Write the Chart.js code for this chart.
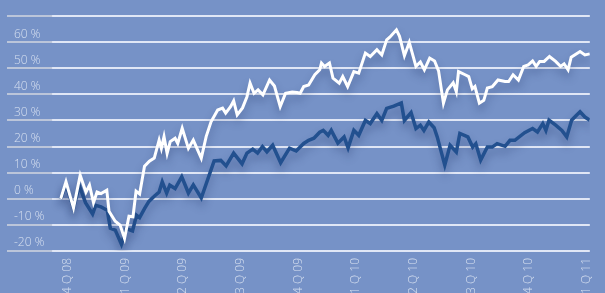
<!DOCTYPE html>
<html lang="en">
<head>
  <meta charset="UTF-8" />
  <title>Performance vs Index</title>
  <script src="https://cdn.jsdelivr.net/npm/chart.js"></script>
  <style>
    body {
      margin: 0;
      background-color: #7692c7;
      font-family: 'Open Sans', sans-serif;
    }

    #wrap {
      width: 605px;
      height: 293px;
      position: relative;
    }
  </style>
</head>
<body>
  <div id="wrap">
    <canvas id="perfChart"></canvas>
  </div>

  <script>
    // quarter labels, one every 13 weeks starting at week 0
    const quarterLabels = ['4 Q 08', '1 Q 09', '2 Q 09', '3 Q 09', '4 Q 09', '1 Q 10', '2 Q 10', '3 Q 10', '4 Q 10', '1 Q 11'];

    // white series (weeks since 4Q08, % change)
    const fundWeeks = [-0.9, 0.3, 2.0, 3.5, 4.8, 5.6, 6.5, 7.3, 8.2, 9.5, 10.0, 11.4, 12.5, 13.5, 14.5, 15.4, 16.1, 16.9, 18.0, 19.1,
      20.2, 21.3, 21.8, 22.4, 23.1, 23.8, 24.9, 25.5, 26.5, 27.9, 29.0, 30.8, 31.9, 33.0, 34.5, 35.6, 36.3, 37.4, 38.1, 38.9,
      40.1, 41.1, 41.8, 42.7, 43.6, 44.7, 46.2, 47.3, 48.6, 49.8, 51.3, 52.4, 53.1, 53.9, 55.0, 56.4, 57.5, 57.9, 58.6, 59.7,
      60.5, 61.9, 62.7, 63.8, 65.2, 66.3, 67.8, 68.9, 70.4, 71.5, 72.6, 73.3, 74.8, 75.5, 76.6, 77.7, 79.2, 80.2, 81.1, 82.3,
      83.4, 84.3, 85.4, 86.3, 87.6, 88.3, 88.8, 90.3, 91.1, 91.9, 92.5, 93.5, 94.5, 95.3, 96.4, 97.7, 99.3, 100.1, 101.1, 102.3,
      103.5, 104.5, 105.5, 106.3, 107.1, 108.1, 109.3, 110.7, 111.8, 112.6, 113.5, 114.2, 116.2, 117.3, 118.4];
    const fundValues = [0, 6.5, -3.5, 9, 2.5, 5.2, -1.5, 2.6, 2, 3.3, -4.8, -8.6, -10.1, -15.2, -6.7, -6.9, 2.9, 1.8, 12.5, 14.4,
      15.6, 22.5, 19.3, 23.8, 17.4, 21.9, 23.2, 21.2, 27, 19.3, 22.5, 15.5, 23.8, 29.5, 34, 34.7, 32.8, 35.3, 37.5, 32.1,
      34.8, 39.1, 44.3, 40.4, 41.7, 39.8, 45.5, 43.2, 35.3, 40.4, 40.9, 40.7, 40.4, 43, 43.6, 47.5, 49.4, 52, 50.7, 52,
      46.2, 44.3, 46.8, 43, 48.7, 48.1, 55.8, 54.5, 57.1, 55.1, 60.9, 61.9, 64.7, 62.2, 54.8, 59.9, 50.7, 52.4, 49.4, 53.9,
      52.8, 49, 36.6, 41.7, 44.4, 41, 48.7, 47.5, 46.8, 42.1, 43, 36.6, 37.7, 42.4, 42.9, 45.5, 44.9, 44.9, 47.5, 45.5,
      50.7, 51.3, 52.8, 50.7, 52.6, 52.6, 54.5, 52.6, 50.7, 51.7, 49.4, 54.2, 56.4, 55.1, 55.5];

    // dark blue series
    const indexWeeks = [-0.9, 0.3, 2.0, 3.3, 4.7, 6.3, 7.0, 8.2, 9.6, 10.3, 11.4, 12.8, 13.9, 15.3, 16.2, 16.9, 18.0, 19.0, 20.2, 21.3,
      22.0, 23.0, 23.7, 24.9, 26.4, 27.9, 29.0, 30.8, 33.7, 35.2, 36.4, 38.1, 40.0, 41.1, 42.4, 43.5, 44.6, 45.6, 46.9, 48.7,
      50.7, 52.2, 53.9, 55.0, 56.2, 57.5, 58.3, 59.4, 60.1, 61.6, 63.0, 63.9, 65.2, 66.3, 67.8, 68.9, 70.4, 71.5, 72.6, 74.2,
      75.9, 76.6, 78.1, 79.2, 80.2, 81.0, 82.1, 83.3, 84.0, 85.7, 86.9, 88.3, 89.1, 90.9, 92.0, 92.7, 93.8, 95.3, 96.4, 97.5,
      99.3, 100.4, 101.5, 103.7, 105.5, 106.6, 107.8, 108.5, 109.2, 110.7, 112.1, 113.2, 114.3, 115.4, 116.2, 117.3, 118.4];
    const indexValues = [0, 5.5, -3.5, 5, -1.5, -5.8, -2.5, -3.1, -4.4, -11.3, -12, -17.4, -11.4, -12.3, -6.3, -7.2, -3.8, -1, 1, 2.6,
      6.5, 2.2, 5.2, 3.9, 8.4, 2.2, 5.3, 0.3, 14.5, 14.7, 12.6, 17.5, 13.4, 17.5, 19, 17.5, 20, 18, 20.5, 13.8,
      19.4, 18.3, 21.2, 22.4, 23.2, 25.5, 26.2, 24.3, 26.2, 21.3, 23.7, 19.5, 26.2, 24.3, 30, 28.8, 32.6, 30, 34.6, 35.5,
      36.7, 30, 33, 26.9, 28.2, 26.2, 29.4, 27.2, 23.7, 12.9, 20.5, 17.9, 25, 23.7, 19.8, 21.1, 14.8, 19.8, 19.8, 21.1,
      20.1, 22.4, 22.4, 25.3, 26.9, 25.6, 28.8, 26.2, 30.1, 28.2, 26.2, 23.7, 30.1, 32, 33.3, 31.3, 30.1];

    const toPoints = (xs, ys) => xs.map((x, i) => ({ x: x, y: ys[i] }));

    // soft shadow under the lines
    const lineShadow = {
      id: 'lineShadow',
      beforeDatasetDraw(chart) {
        const c = chart.ctx;
        c.save();
        c.shadowColor = 'rgba(35, 55, 105, 0.4)';
        c.shadowBlur = 9;
        c.shadowOffsetY = 6;
      },
      afterDatasetDraw(chart) {
        chart.ctx.restore();
      }
    };

    const gridColor = (ctx) => {
      const chart = ctx.chart;
      const g = chart.ctx.createLinearGradient(0, 0, chart.width, 0);
      g.addColorStop(0, 'rgba(205, 210, 222, 0.8)');
      g.addColorStop(0.085, 'rgba(205, 210, 222, 0.8)');
      g.addColorStop(0.087, 'rgba(236, 240, 250, 0.9)');
      g.addColorStop(1, 'rgba(236, 240, 250, 0.9)');
      return g;
    };

    const ctx = document.getElementById('perfChart').getContext('2d');
    new Chart(ctx, {
      type: 'line',
      data: {
        datasets: [
          {
            label: 'Fund',
            data: toPoints(fundWeeks, fundValues),
            borderColor: '#ffffff',
            borderWidth: 3,
            pointRadius: 0,
            tension: 0
          },
          {
            label: 'Index',
            data: toPoints(indexWeeks, indexValues),
            borderColor: '#22508f',
            borderWidth: 3.5,
            pointRadius: 0,
            tension: 0
          }
        ]
      },
      options: {
        responsive: true,
        maintainAspectRatio: false,
        animation: false,
        layout: { padding: { top: 16, left: 0, right: 0, bottom: 0 } },
        plugins: {
          legend: { display: false },
          tooltip: { enabled: false }
        },
        scales: {
          x: {
            type: 'linear',
            min: -13,
            max: 118.4,
            afterBuildTicks: (scale) => {
              scale.ticks = quarterLabels.map((_, i) => ({ value: i * 13 }));
            },
            afterFit: (scale) => { scale.height = 42; },
            grid: { display: false, drawTicks: false },
            border: { display: false },
            ticks: {
              autoSkip: false,
              minRotation: 90,
              maxRotation: 90,
              padding: 7,
              labelOffset: 3,
              color: 'rgba(238, 242, 250, 0.8)',
              font: { family: 'Open Sans', size: 12, weight: '300' },
              callback: (v) => quarterLabels[Math.round(v / 13)]
            }
          },
          y: {
            min: -20,
            max: 70,
            afterFit: (scale) => { scale.width = 7; },
            grid: { color: gridColor, lineWidth: 2, drawTicks: false },
            border: { display: false },
            ticks: {
              stepSize: 10,
              mirror: true,
              padding: 7,
              labelOffset: -8,
              color: 'rgba(238, 242, 250, 0.8)',
              font: { family: 'Open Sans', size: 12, weight: '300' },
              callback: (v) => v === 70 ? '' : v + ' %'
            }
          }
        }
      },
      plugins: [lineShadow]
    });
  </script>
</body>
</html>
